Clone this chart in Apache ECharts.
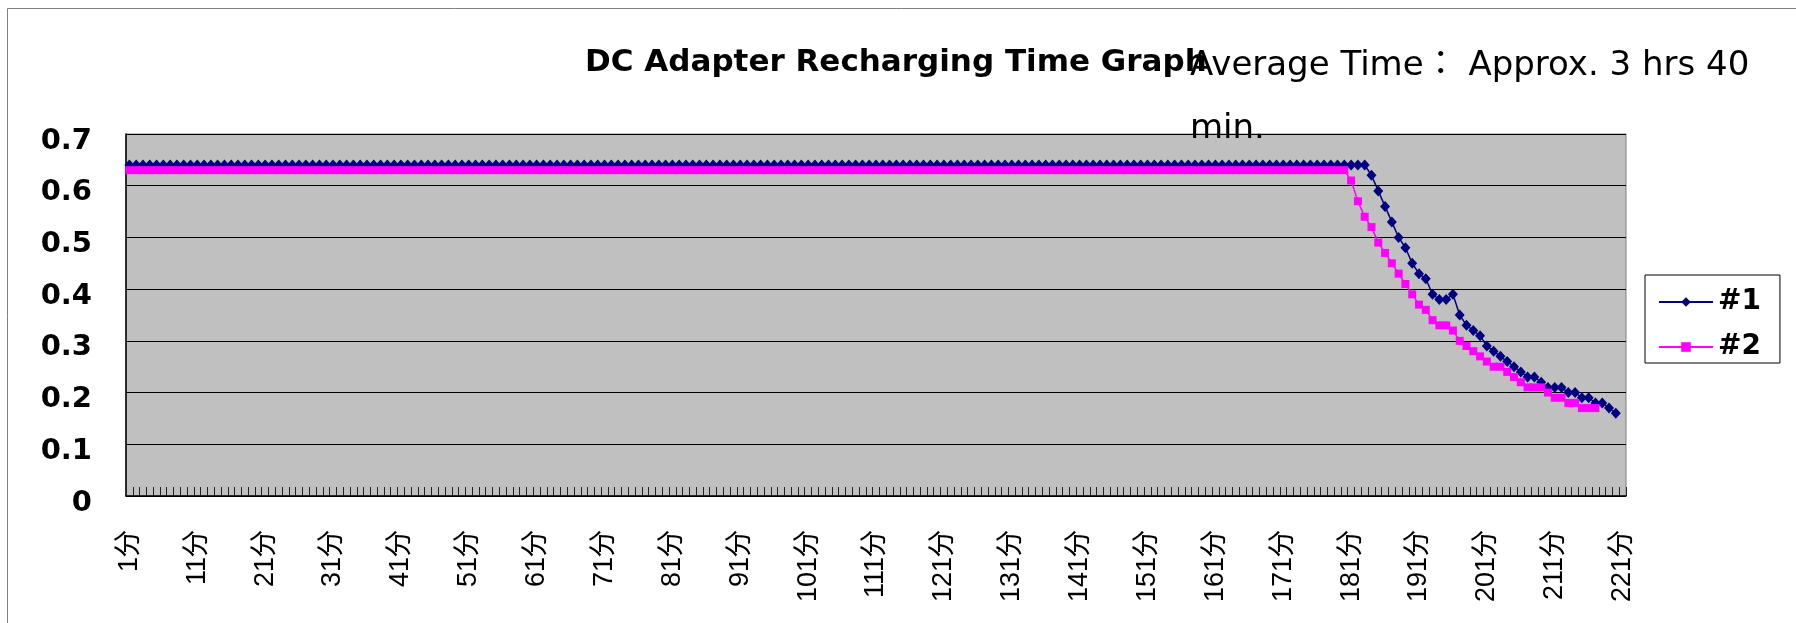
<!DOCTYPE html>
<html>
<head>
<meta charset="utf-8">
<script src="https://cdn.jsdelivr.net/npm/echarts@6/dist/echarts.min.js"></script>
<style>
html,body{margin:0;padding:0;background:#fff;}
#chart{width:1796px;height:623px;}
</style>
</head>
<body>
<div id="chart"></div>
<script>
// Categories: minutes 1..221
const categories = Array.from({length: 221}, (_, i) => (i + 1) + '分');
const yTicks = [0, 0.1, 0.2, 0.3, 0.4, 0.5, 0.6, 0.7];

// Series #1 : flat part (minutes 1-183)
const s1Flat = [
0.64,0.64,0.64,0.64,0.64,0.64,0.64,0.64,0.64,0.64,0.64,0.64,0.64,0.64,0.64,0.64,0.64,0.64,0.64,0.64,
0.64,0.64,0.64,0.64,0.64,0.64,0.64,0.64,0.64,0.64,0.64,0.64,0.64,0.64,0.64,0.64,0.64,0.64,0.64,0.64,
0.64,0.64,0.64,0.64,0.64,0.64,0.64,0.64,0.64,0.64,0.64,0.64,0.64,0.64,0.64,0.64,0.64,0.64,0.64,0.64,
0.64,0.64,0.64,0.64,0.64,0.64,0.64,0.64,0.64,0.64,0.64,0.64,0.64,0.64,0.64,0.64,0.64,0.64,0.64,0.64,
0.64,0.64,0.64,0.64,0.64,0.64,0.64,0.64,0.64,0.64,0.64,0.64,0.64,0.64,0.64,0.64,0.64,0.64,0.64,0.64,
0.64,0.64,0.64,0.64,0.64,0.64,0.64,0.64,0.64,0.64,0.64,0.64,0.64,0.64,0.64,0.64,0.64,0.64,0.64,0.64,
0.64,0.64,0.64,0.64,0.64,0.64,0.64,0.64,0.64,0.64,0.64,0.64,0.64,0.64,0.64,0.64,0.64,0.64,0.64,0.64,
0.64,0.64,0.64,0.64,0.64,0.64,0.64,0.64,0.64,0.64,0.64,0.64,0.64,0.64,0.64,0.64,0.64,0.64,0.64,0.64,
0.64,0.64,0.64,0.64,0.64,0.64,0.64,0.64,0.64,0.64,0.64,0.64,0.64,0.64,0.64,0.64,0.64,0.64,0.64,0.64,
0.64,0.64,0.64
];
// Series #1 : falling part (minutes 184-220)
const s1Drop = [
0.62,0.59,0.56,0.53,0.50,0.48,0.45,0.43,0.42,0.39,
0.38,0.38,0.39,0.35,0.33,0.32,0.31,0.29,0.28,0.27,
0.26,0.25,0.24,0.23,0.23,0.22,0.21,0.21,0.21,0.20,
0.20,0.19,0.19,0.18,0.18,0.17,0.16
];

// Series #2 : flat part (minutes 1-180)
const s2Flat = [
0.63,0.63,0.63,0.63,0.63,0.63,0.63,0.63,0.63,0.63,0.63,0.63,0.63,0.63,0.63,0.63,0.63,0.63,0.63,0.63,
0.63,0.63,0.63,0.63,0.63,0.63,0.63,0.63,0.63,0.63,0.63,0.63,0.63,0.63,0.63,0.63,0.63,0.63,0.63,0.63,
0.63,0.63,0.63,0.63,0.63,0.63,0.63,0.63,0.63,0.63,0.63,0.63,0.63,0.63,0.63,0.63,0.63,0.63,0.63,0.63,
0.63,0.63,0.63,0.63,0.63,0.63,0.63,0.63,0.63,0.63,0.63,0.63,0.63,0.63,0.63,0.63,0.63,0.63,0.63,0.63,
0.63,0.63,0.63,0.63,0.63,0.63,0.63,0.63,0.63,0.63,0.63,0.63,0.63,0.63,0.63,0.63,0.63,0.63,0.63,0.63,
0.63,0.63,0.63,0.63,0.63,0.63,0.63,0.63,0.63,0.63,0.63,0.63,0.63,0.63,0.63,0.63,0.63,0.63,0.63,0.63,
0.63,0.63,0.63,0.63,0.63,0.63,0.63,0.63,0.63,0.63,0.63,0.63,0.63,0.63,0.63,0.63,0.63,0.63,0.63,0.63,
0.63,0.63,0.63,0.63,0.63,0.63,0.63,0.63,0.63,0.63,0.63,0.63,0.63,0.63,0.63,0.63,0.63,0.63,0.63,0.63,
0.63,0.63,0.63,0.63,0.63,0.63,0.63,0.63,0.63,0.63,0.63,0.63,0.63,0.63,0.63,0.63,0.63,0.63,0.63,0.63
];
// Series #2 : falling part (minutes 181-217)
const s2Drop = [
0.61,0.57,0.54,0.52,0.49,0.47,0.45,0.43,0.41,0.39,
0.37,0.36,0.34,0.33,0.33,0.32,0.30,0.29,0.28,0.27,
0.26,0.25,0.25,0.24,0.23,0.22,0.21,0.21,0.21,0.20,
0.19,0.19,0.18,0.18,0.17,0.17,0.17
];

const series1 = s1Flat.concat(s1Drop);
const series2 = s2Flat.concat(s2Drop);
const seriesNames = ['#1', '#2'];
const titleText = 'DC Adapter Recharging Time Graph';
const noteText = 'Average Time： Approx. 3 hrs 40\nmin.';

const chart = echarts.init(document.getElementById('chart'), null, {renderer: 'canvas'});
chart.setOption({
  animation: false,
  backgroundColor: '#ffffff',
  title: [
    {
      text: titleText, left: 585, top: 47, padding: 0,
      textStyle: {fontFamily: 'DejaVu Sans', fontWeight: 'bold', fontSize: 31, color: '#000'}
    },
    {
      text: noteText, left: 1190, top: 35, padding: 0,
      textStyle: {fontFamily: "'DejaVu Sans', 'Noto Sans CJK JP'", fontWeight: 'normal', fontSize: 34, lineHeight: 63, color: '#000'}
    }
  ],
  legend: {
    data: seriesNames,
    orient: 'vertical',
    left: 1645, top: 275,
    padding: [12, 19, 1, 13],
    itemGap: 15, itemWidth: 54, itemHeight: 12,
    backgroundColor: '#ffffff', borderColor: '#000', borderWidth: 1, borderRadius: 0,
    textStyle: {fontFamily: 'DejaVu Sans', fontWeight: 'bold', fontSize: 28, lineHeight: 30, color: '#000'}
  },
  grid: {
    left: 126, right: 170, top: 134, bottom: 127,
    show: true, backgroundColor: '#c0c0c0', borderColor: '#808080', borderWidth: 1
  },
  xAxis: {
    type: 'category',
    data: categories,
    boundaryGap: true,
    axisLine: {show: true, lineStyle: {color: '#000', width: 1.5}},
    axisTick: {show: true, inside: true, length: 9, interval: 0, lineStyle: {color: '#222', width: 1}},
    axisLabel: {
      interval: 9, rotate: 90, margin: 34,
      fontFamily: "'Liberation Sans', 'Noto Sans CJK JP'", fontSize: 27, color: '#000'
    },
    splitLine: {show: false}
  },
  yAxis: {
    type: 'value', min: yTicks[0], max: yTicks[yTicks.length - 1], interval: 0.1,
    axisLine: {show: true, lineStyle: {color: '#000', width: 1.5}},
    axisTick: {show: true, inside: true, length: 6, lineStyle: {color: '#000'}},
    axisLabel: {
      margin: 34, fontFamily: 'DejaVu Sans', fontWeight: 'bold', fontSize: 29, color: '#000',
      verticalAlign: 'top', lineHeight: 14
    },
    splitLine: {show: true, lineStyle: {color: '#000', width: 1}}
  },
  graphic: [
    {
      type: 'polyline', silent: true,
      shape: {points: [[7.5, 623], [7.5, 8.5], [1796, 8.5]]},
      style: {stroke: '#808080', lineWidth: 1, fill: null}
    }
  ],
  series: [
    {
      name: seriesNames[0], type: 'line', data: series1,
      symbol: 'diamond', symbolSize: [10, 11], showAllSymbol: true,
      lineStyle: {color: '#000080', width: 1.5},
      itemStyle: {color: '#000080'},
      emphasis: {disabled: true}
    },
    {
      name: seriesNames[1], type: 'line', data: series2,
      symbol: 'rect', symbolSize: 8, showAllSymbol: true,
      lineStyle: {color: '#ff00ff', width: 1.5},
      itemStyle: {color: '#ff00ff'},
      emphasis: {disabled: true}
    }
  ]
});
</script>
</body>
</html>
